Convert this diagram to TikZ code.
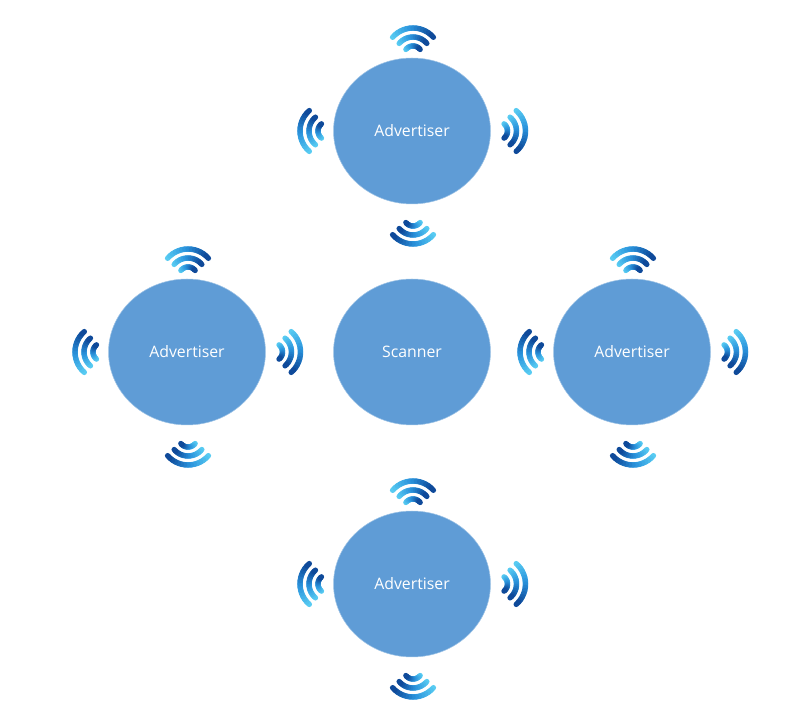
\documentclass[tikz,border=0pt]{standalone}
\usepackage{fontspec}
\setmainfont{Open Sans}
\usetikzlibrary{shapes.geometric}
\definecolor{bubblefill}{HTML}{5F9CD6}
\definecolor{wifilight}{HTML}{58CBF2}
\definecolor{wifimid}{HTML}{2A93DC}
\definecolor{wifidark}{HTML}{0F4A9A}
\tikzset{
  wifi/.pic={
    \foreach \rad/\half in {27/49,18/50,9/52} {
      \foreach \i in {0,...,13} {
        \pgfmathsetmacro\angA{90+\half-2*\half*\i/14}
        \pgfmathsetmacro\angB{90+\half-2*\half*(\i+1)/14}
        \pgfmathtruncatemacro\mixval{\i<7 ? 100*\i/6.5 : 100*(\i-6.5)/6.5}
        \ifnum\i<7
          \draw [line width=3.1pt,line cap=round,color=wifimid!\mixval!wifilight] (\angA:\rad) arc (\angA:\angB:\rad);
        \else
          \draw [line width=3.1pt,line cap=round,color=wifidark!\mixval!wifimid] (\angA:\rad) arc (\angA:\angB:\rad);
        \fi
      }
    }
  }
}
\begin{document}
\begin{tikzpicture}[x=0.02cm,y=0.02cm]
\tikzstyle{bubble}=[ellipse,fill=bubblefill,draw=bubblefill!60!white,line width=0.3pt,minimum width=3.14cm,minimum height=2.92cm,inner sep=0pt,text=white,font=\fontsize{9}{11}\selectfont]
\useasboundingbox (0,0) rectangle (800,726);
\node (scanner) [bubble] at (412,374) {Scanner};
\node (advtop) [bubble] at (412,595) {Advertiser};
\node (advleft) [bubble] at (187,374) {Advertiser};
\node (advright) [bubble] at (632,374) {Advertiser};
\node (advbottom) [bubble] at (412,142) {Advertiser};
% four signal marks round each advertiser
\foreach \cx/\cy in {412/595,187/374,632/374,412/142} {
  \pic at (\cx+1,\cy+76) {wifi};
  \pic [rotate=-90] at (\cx+86.5,\cy) {wifi};
  \pic [rotate=180] at (\cx+1,\cy-86) {wifi};
  \pic [rotate=90] at (\cx-85,\cy) {wifi};
}
\end{tikzpicture}
\end{document}
